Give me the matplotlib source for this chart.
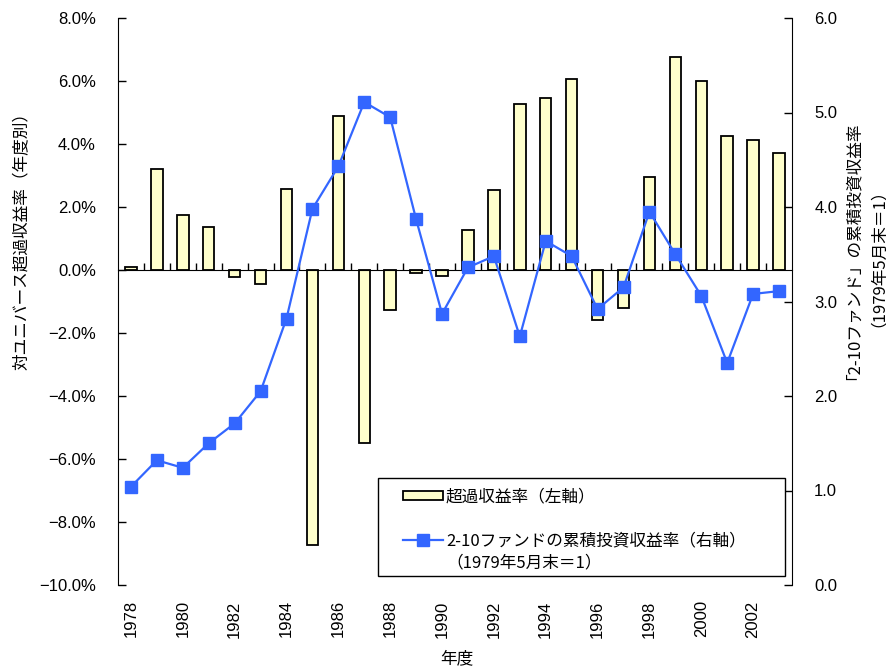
import matplotlib
matplotlib.use("Agg")
import matplotlib.pyplot as plt
from matplotlib.patches import Rectangle
from matplotlib.lines import Line2D

years = list(range(1978, 2004))
excess_return = [0.10, 3.20, 1.74, 1.36, -0.21, -0.44, 2.56, -8.73, 4.88, -5.49,
                 -1.26, -0.08, -0.18, 1.27, 2.54, 5.27, 5.46, 6.07, -1.59, -1.22,
                 2.95, 6.77, 6.01, 4.24, 4.13, 3.71]
cumulative = [1.04, 1.32, 1.24, 1.50, 1.71, 2.05, 2.82, 3.98, 4.43, 5.11,
              4.95, 3.87, 2.87, 3.36, 3.48, 2.63, 3.64, 3.48, 2.92, 3.15,
              3.95, 3.50, 3.06, 2.35, 3.08, 3.11]
left_ticks = [-10, -8, -6, -4, -2, 0, 2, 4, 6, 8]
left_tick_labels = ["−10.0%", "−8.0%", "−6.0%", "−4.0%", "−2.0%", "0.0%",
                    "2.0%", "4.0%", "6.0%", "8.0%"]
right_ticks = [0, 1, 2, 3, 4, 5, 6]
right_tick_labels = ["0.0", "1.0", "2.0", "3.0", "4.0", "5.0", "6.0"]
label_years = years[::2]

bar_label = "超過収益率（左軸）"
line_label = "2-10ファンドの累積投資収益率（右軸）"
line_label2 = "（1979年5月末＝1）"
left_ylabel = "対ユニバース超過収益率（年度別）"
right_ylabel1 = "「2-10ファンド」の累積投資収益率"
right_ylabel2 = "（1979年5月末＝1）"
xlabel = "年度"

CJK = ['Noto Sans CJK JP', 'DejaVu Sans']
LAT = ['Liberation Sans', 'DejaVu Sans']
W, H = 887, 671

fig = plt.figure(figsize=(W / 100, H / 100), dpi=100)
ax = fig.add_axes([118 / W, 1 - 585 / H, (792 - 118) / W, (585 - 18) / H])
ax2 = ax.twinx()

bar_color = "#FFFFCC"
blue = "#3366FF"

ax.bar(years, excess_return, width=0.44, color=bar_color, edgecolor="black",
       linewidth=1.3, zorder=2)
ax.set_xlim(1977.5, 2003.5)
ax.set_ylim(-10, 8)
ax.set_yticks(left_ticks)
ax.set_yticklabels(left_tick_labels, family=LAT, fontsize=12)
ax.tick_params(axis='y', direction='in', length=6, pad=16, width=1)

# zero-line category axis with boundary ticks
ax.spines['bottom'].set_position(('data', 0))
ax.spines['top'].set_visible(False)
ax.spines['right'].set_visible(False)
ax.set_xticks([y + 0.5 for y in years[:-1]])
ax.tick_params(axis='x', direction='in', length=5, labelbottom=False, width=1)

sec = ax.secondary_xaxis('bottom')
sec.set_xticks(label_years)
sec.set_xticklabels([str(y) for y in label_years], rotation=90, family=LAT, fontsize=12)
sec.tick_params(axis='x', length=0, pad=11)
sec.spines['bottom'].set_visible(False)

ax2.plot(years, cumulative, color=blue, linewidth=1.6, marker='s',
         markersize=8.5, markerfacecolor=blue, markeredgecolor=blue, zorder=3)
ax2.set_ylim(0, 6)
ax2.set_yticks(right_ticks)
ax2.set_yticklabels(right_tick_labels, family=LAT, fontsize=12)
ax2.tick_params(axis='y', direction='in', length=6, pad=16, width=1)
ax2.spines['top'].set_visible(False)
ax2.spines['left'].set_visible(False)
ax2.spines['bottom'].set_visible(False)

# legend
fig_tr = fig.transFigure
frame = Rectangle((378 / W, 1 - 576 / H), (785 - 378) / W, (576 - 478) / H,
                  transform=fig_tr, facecolor="white", edgecolor="black",
                  linewidth=1.0, zorder=10)
ax2.add_artist(frame)
frame.set_clip_on(False)
handles = [Rectangle((0, 0), 1, 1, facecolor=bar_color, edgecolor="black", linewidth=1.3),
           Line2D([], [], color=blue, linewidth=1.6, marker='s', markersize=8.5,
                  markerfacecolor=blue, markeredgecolor=blue)]
leg = ax2.legend(handles, [bar_label, line_label], loc='upper left',
                 bbox_to_anchor=(391 / W, 1 - 477 / H), bbox_transform=fig_tr,
                 frameon=False, prop={'family': CJK, 'size': 12},
                 handlelength=2.4, handleheight=0.45, handletextpad=0.2,
                 labelspacing=1.6, borderpad=0.2)
leg.set_zorder(11)
fig.text(446 / W, 1 - 563 / H, line_label2, ha='left', va='center',
         family=CJK, fontsize=12, zorder=12)

fig.text(22 / W, 1 - 237 / H, left_ylabel, rotation=90, ha='center', va='center',
         family=CJK, fontsize=12)
fig.text(845 / W, 1 - 247 / H, right_ylabel1, rotation=90, ha='center', va='center',
         family=CJK, fontsize=12)
fig.text(869 / W, 1 - 249 / H, right_ylabel2, rotation=90, ha='center', va='center',
         family=CJK, fontsize=12)
fig.text(457 / W, 1 - 659 / H, xlabel, ha='center', va='center', family=CJK, fontsize=12)

fig.savefig("out.png", dpi=100)
